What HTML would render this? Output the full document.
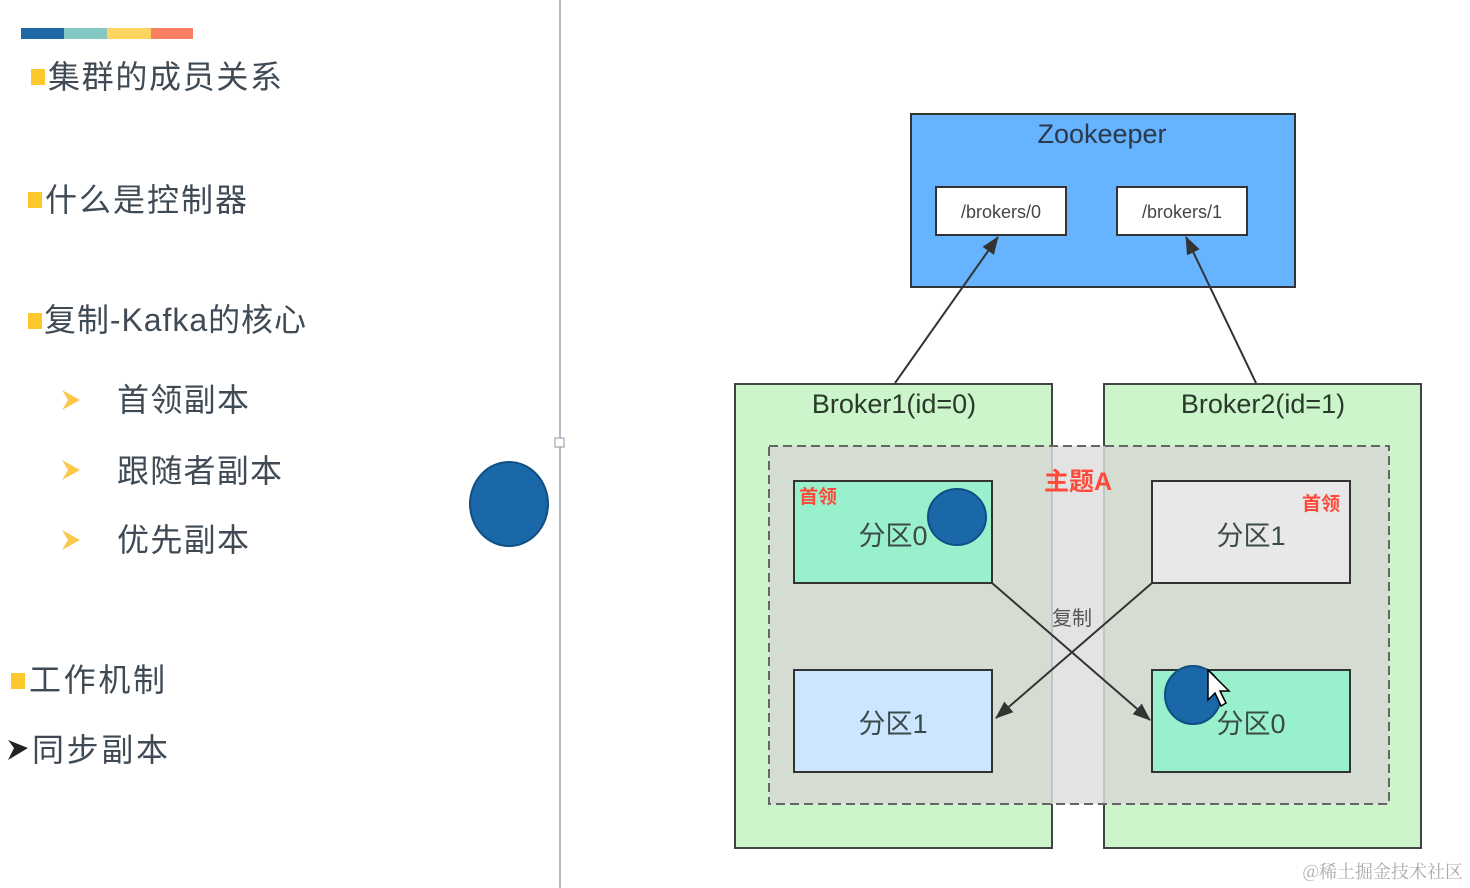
<!DOCTYPE html>
<html><head><meta charset="utf-8"><style>
html,body{margin:0;padding:0;background:#fff;}
svg{display:block;font-family:"Liberation Sans","Noto Sans CJK SC",sans-serif;}
</style></head><body>
<svg width="1470" height="888" viewBox="0 0 1470 888" xmlns="http://www.w3.org/2000/svg">
<defs>
<marker id="ah2" markerWidth="18" markerHeight="14" refX="17" refY="7" orient="auto" markerUnits="userSpaceOnUse"><path d="M0,0 L18,7 L0,14 Z" fill="#333"/></marker>
</defs>
<rect x="21" y="28" width="43" height="11" fill="#1f67a6"/>
<rect x="64" y="28" width="43" height="11" fill="#84c8c4"/>
<rect x="107" y="28" width="44" height="11" fill="#fdd45f"/>
<rect x="151" y="28" width="42" height="11" fill="#f77f62"/>
<g fill="#3f4a55" font-size="32">
<rect x="31" y="69" width="14" height="16" fill="#fcc82c"/>
<text x="48" y="88" textLength="234">集群的成员关系</text>
<rect x="28" y="192" width="14" height="16" fill="#fcc82c"/>
<text x="45" y="211" textLength="202">什么是控制器</text>
<rect x="28" y="313" width="14" height="16" fill="#fcc82c"/>
<text x="44" y="331" textLength="262">复制-Kafka的核心</text>
<text x="117" y="411" textLength="132">首领副本</text>
<text x="117" y="482" textLength="165">跟随者副本</text>
<text x="117" y="551" textLength="132">优先副本</text>
<rect x="11" y="673" width="14" height="16" fill="#fcc82c"/>
<text x="29" y="691" textLength="136">工作机制</text>
<text x="32" y="761" textLength="136">同步副本</text>
</g>
<g fill="#fcc84a">
<path d="M62,390 L80,400 L62,410 L68,400 Z"/>
<path d="M62,460 L80,470 L62,480 L68,470 Z"/>
<path d="M62,530 L80,540 L62,550 L68,540 Z"/>
</g>
<path d="M8,740 L28,748 L8,760 L14,748 Z" fill="#222"/>
<line x1="560" y1="0" x2="560" y2="888" stroke="#9aa6b0" stroke-width="1.5"/>
<rect x="555" y="438" width="9" height="9" fill="#fff" stroke="#8a9aa6"/>
<ellipse cx="509" cy="504" rx="39" ry="42" fill="#1a68a8" stroke="#0f4f84" stroke-width="2"/>
<rect x="911" y="114" width="384" height="173" fill="#66b3ff" stroke="#333" stroke-width="2"/>
<text x="1102" y="143" text-anchor="middle" font-size="27" fill="#2a3a4a">Zookeeper</text>
<rect x="936" y="187" width="130" height="48" fill="#fff" stroke="#333" stroke-width="2"/>
<text x="1001" y="218" text-anchor="middle" font-size="18" fill="#444">/brokers/0</text>
<rect x="1117" y="187" width="130" height="48" fill="#fff" stroke="#333" stroke-width="2"/>
<text x="1182" y="218" text-anchor="middle" font-size="18" fill="#444">/brokers/1</text>
<rect x="735" y="384" width="317" height="464" fill="#ccf5cc" stroke="#444" stroke-width="2"/>
<rect x="1104" y="384" width="317" height="464" fill="#ccf5cc" stroke="#444" stroke-width="2"/>
<text x="894" y="413" text-anchor="middle" font-size="27" fill="#2a3a2a">Broker1(id=0)</text>
<text x="1263" y="413" text-anchor="middle" font-size="27" fill="#2a3a2a">Broker2(id=1)</text>
<line x1="895" y1="383" x2="998" y2="237" stroke="#333" stroke-width="2" marker-end="url(#ah2)"/>
<line x1="1256" y1="383" x2="1186" y2="237" stroke="#333" stroke-width="2" marker-end="url(#ah2)"/>
<rect x="769" y="446" width="620" height="358" fill="#d5ddd3"/>
<rect x="1052" y="446" width="52" height="358" fill="#e3e3e3"/>
<line x1="1052" y1="446" x2="1052" y2="804" stroke="#aaa" stroke-width="1"/>
<line x1="1104" y1="446" x2="1104" y2="804" stroke="#aaa" stroke-width="1"/>
<rect x="769" y="446" width="620" height="358" fill="none" stroke="#666" stroke-width="2" stroke-dasharray="9,5"/>
<text x="1078" y="490" text-anchor="middle" font-size="25" font-weight="bold" fill="#ff4a3a">主题A</text>
<rect x="794" y="481" width="198" height="102" fill="#99f0cc" stroke="#333" stroke-width="2"/>
<text x="799" y="503" font-size="19" font-weight="bold" fill="#ff4a3a">首领</text>
<text x="893" y="545" text-anchor="middle" font-size="27" fill="#3a4a4a">分区0</text>
<ellipse cx="957" cy="517" rx="29" ry="28" fill="#1a68a8" stroke="#0f4f84" stroke-width="2"/>
<rect x="1152" y="481" width="198" height="102" fill="#e8e8e8" stroke="#333" stroke-width="2"/>
<text x="1340" y="510" text-anchor="end" font-size="19" font-weight="bold" fill="#ff4a3a">首领</text>
<text x="1251" y="545" text-anchor="middle" font-size="27" fill="#3a4a4a">分区1</text>
<rect x="794" y="670" width="198" height="102" fill="#cce6ff" stroke="#333" stroke-width="2"/>
<text x="893" y="733" text-anchor="middle" font-size="27" fill="#3a4a4a">分区1</text>
<rect x="1152" y="670" width="198" height="102" fill="#99f0cc" stroke="#333" stroke-width="2"/>
<text x="1251" y="733" text-anchor="middle" font-size="27" fill="#3a4a4a">分区0</text>
<ellipse cx="1193" cy="695" rx="28" ry="29" fill="#1a68a8" stroke="#0f4f84" stroke-width="2"/>
<line x1="992" y1="583" x2="1150" y2="720" stroke="#333" stroke-width="2" marker-end="url(#ah2)"/>
<line x1="1152" y1="583" x2="996" y2="718" stroke="#333" stroke-width="2" marker-end="url(#ah2)"/>
<text x="1072" y="625" text-anchor="middle" font-size="20" fill="#555">复制</text>
<path d="M1208,670 L1208,700 L1215,693 L1221,706 L1226,703 L1220,691 L1229,691 Z" fill="#fff" stroke="#000" stroke-width="1.5"/>
<text x="1463" y="878" text-anchor="end" font-size="18" fill="#aaa" font-family="'Noto Serif CJK SC',serif">@稀土掘金技术社区</text>
</svg>
</body></html>
